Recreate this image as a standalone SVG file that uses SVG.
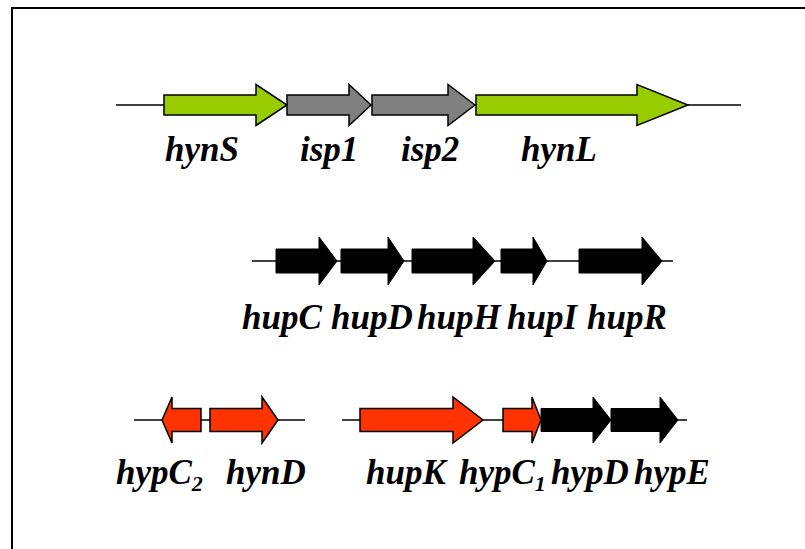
<svg xmlns="http://www.w3.org/2000/svg" width="805" height="549" viewBox="0 0 805 549">
<style>
.g{fill:#99CC00;stroke:#000;stroke-width:1.5;stroke-linejoin:miter}
.gr{fill:#808080;stroke:#000;stroke-width:1.5}
.r{fill:#FF3300;stroke:#000;stroke-width:1.5}
.k{fill:#000;stroke:#000;stroke-width:1}
.ln{stroke:#000;stroke-width:1.5;fill:none}
.t{font-family:"Liberation Serif","Times New Roman",serif;font-weight:bold;font-style:italic;font-size:35px;fill:#000}
.s{font-size:22px}
</style>
<rect x="0" y="0" width="805" height="549" fill="#fff"/>
<path d="M12,549 V8 H805" fill="none" stroke="#000" stroke-width="2"/>
<g id="connectors">
<line class="ln" x1="116" y1="105" x2="741" y2="105"/>
<line class="ln" x1="252" y1="261" x2="673" y2="261"/>
<line class="ln" x1="134" y1="420" x2="305" y2="420"/>
<line class="ln" x1="342" y1="420" x2="687" y2="420"/>
</g>
<g id="hynS"><polygon class="g" points="164,95 256,95 256,84.5 287,105 256,125.5 256,115 164,115"/><text class="t" x="165" y="161">hynS</text></g>
<g id="isp1"><polygon class="gr" points="287,95 349,95 349,84.5 371,105 349,125.5 349,115 287,115"/><text class="t" x="300" y="161">isp1</text></g>
<g id="isp2"><polygon class="gr" points="372,95 448,95 448,84.5 475,105 448,125.5 448,115 372,115"/><text class="t" x="401" y="161">isp2</text></g>
<g id="hynL"><polygon class="g" points="476,95 637,95 637,84.5 688,105 637,125.5 637,115 476,115"/><text class="t" x="521" y="161">hynL</text></g>
<g id="hupC"><polygon class="k" points="276,249 319,249 319,237 337,261 319,285 319,273 276,273"/><text class="t" x="242" y="329">hupC</text></g>
<g id="hupD"><polygon class="k" points="341,249 388,249 388,237 404,261 388,285 388,273 341,273"/><text class="t" x="331" y="329">hupD</text></g>
<g id="hupH"><polygon class="k" points="412,249 473,249 473,237 495,261 473,285 473,273 412,273"/><text class="t" x="417" y="329">hupH</text></g>
<g id="hupI"><polygon class="k" points="501,249 533,249 533,237 547,261 533,285 533,273 501,273"/><text class="t" x="507" y="329">hupI</text></g>
<g id="hupR"><polygon class="k" points="579,249 642,249 642,237 662,261 642,285 642,273 579,273"/><text class="t" x="587" y="329">hupR</text></g>
<g id="hypC2"><polygon class="r" points="201,408.5 172,408.5 172,397 162,420 172,443 172,431.5 201,431.5"/><text class="t" x="116" y="484">hypC<tspan class="s" dy="7">2</tspan></text></g>
<g id="hynD"><polygon class="r" points="210,408.5 262,408.5 262,397 278,420 262,443 262,431.5 210,431.5"/><text class="t" x="226" y="484">hynD</text></g>
<g id="hupK"><polygon class="r" points="360,408.5 453,408.5 453,397 483,420 453,443 453,431.5 360,431.5"/><text class="t" x="366" y="484">hupK</text></g>
<g id="hypC1"><polygon class="r" points="503,408.5 532,408.5 532,397 541,420 532,443 532,431.5 503,431.5"/><text class="t" x="459" y="484">hypC<tspan class="s" dy="7">1</tspan></text></g>
<g id="hypD"><polygon class="k" points="541,408.5 593,408.5 593,397 611,420 593,443 593,431.5 541,431.5"/><text class="t" x="551" y="484">hypD</text></g>
<g id="hypE"><polygon class="k" points="611,408.5 660,408.5 660,397 678,420 660,443 660,431.5 611,431.5"/><text class="t" x="634" y="484">hypE</text></g>
</svg>
